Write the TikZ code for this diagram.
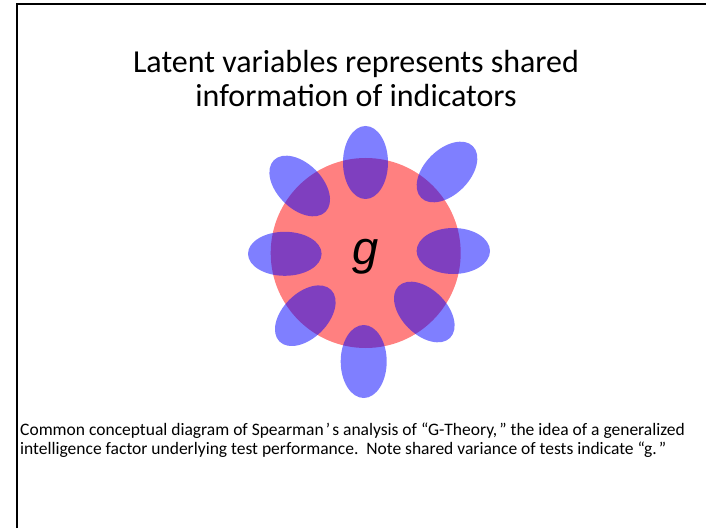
\documentclass[tikz,border=0pt]{standalone}
\usepackage{fontspec}
\setmainfont{Carlito}
\newfontfamily\gfont{Liberation Sans}
\begin{document}
\begin{tikzpicture}[x=1pt,y=1pt,
  frameline/.style={line width=2pt,black},
  factor/.style={fill=red!50},
  indicator/.style={fill=blue,fill opacity=0.5},
  titletext/.style={font=\fontsize{32}{36}\selectfont,anchor=base,inner sep=0pt},
  captext/.style={font=\fontsize{17.5}{19}\selectfont,anchor=base west,inner sep=0pt}]
\useasboundingbox (0,0) rectangle (706,528);
% frame
\coordinate (fb) at (17.3,0);
\coordinate (fc) at (17.3,523.5);
\coordinate (fr) at (706,523.5);
\draw[frameline] (fb) -- (fc) -- (fr);
% title
\node[titletext] (t1) at (356,455) {Latent variables represents shared};
\node[titletext] (t2) at (356,421) {information of indicators};
% latent factor
\fill[factor] (365.7,275) circle (95);
% indicators
\fill[indicator] (365.5,365.5) ellipse [x radius=22.5, y radius=36.5];
\fill[indicator] (363.7,166.5) ellipse [x radius=23, y radius=36.5];
\fill[indicator] (284.8,274.2) ellipse [x radius=36.8, y radius=22];
\fill[indicator] (453.3,277) ellipse [x radius=36.7, y radius=23];
\fill[indicator, rotate around={-45:(299.7,342)}] (299.7,342) ellipse [x radius=36.5, y radius=22.5];
\fill[indicator, rotate around={45:(447,356)}] (447,356) ellipse [x radius=36.5, y radius=22.5];
\fill[indicator, rotate around={45:(305.3,212.3)}] (305.3,212.3) ellipse [x radius=36.5, y radius=22.5];
\fill[indicator, rotate around={-45:(424.3,216)}] (424.3,216) ellipse [x radius=36.5, y radius=22.5];
\node[anchor=base,inner sep=0pt,font=\gfont\itshape\fontsize{47}{50}\selectfont] (g) at (366,263) {g};
% caption
\node[captext] (c1) at (20,93) {Common conceptual diagram of Spearman\hspace{0.12em}’\hspace{0.12em}s analysis of “G-Theory,\hspace{0.12em}” the idea of a generalized};
\node[captext] (c2) at (20,74) {intelligence factor underlying test performance.\ \ Note shared variance of tests indicate “g.\hspace{0.12em}”};
\end{tikzpicture}
\end{document}
